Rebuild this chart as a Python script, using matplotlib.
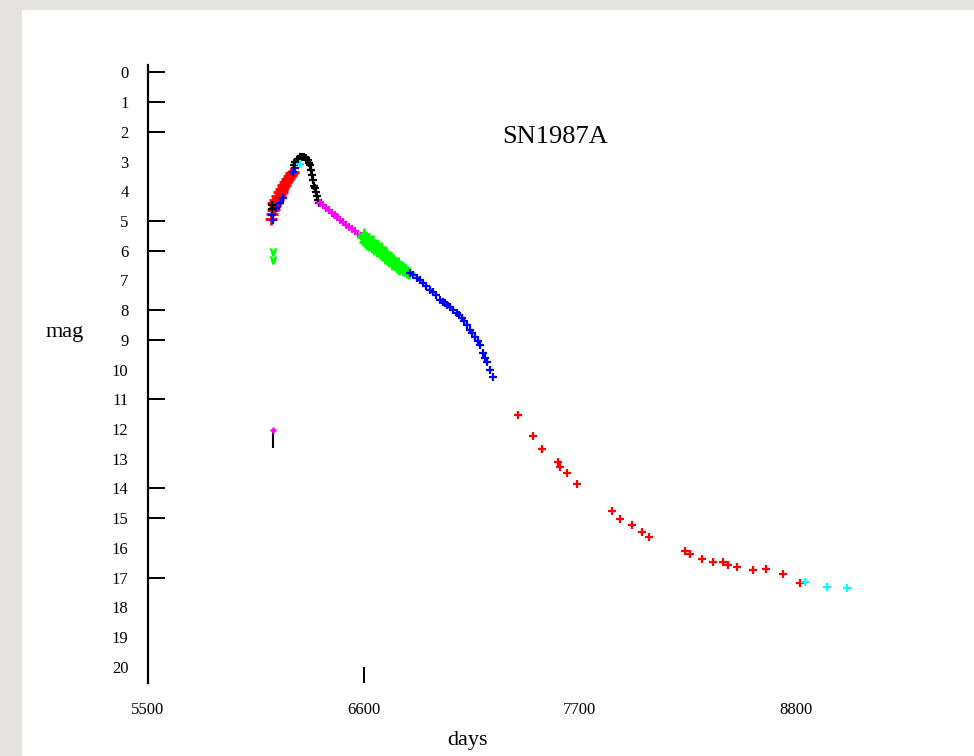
import matplotlib
matplotlib.use("Agg")
import matplotlib.pyplot as plt
from matplotlib.patches import Rectangle

# ---------------- data ----------------
x_ticks = [5500, 6600, 7700, 8800]
x_tick_labels = ["5500", "6600", "7700", "8800"]
y_ticks = list(range(0, 21))
y_tick_marks = [0, 1, 2, 5, 6, 8, 9, 11, 14, 15, 17]

red_rise_x = [6128, 6132, 6135, 6140, 6145, 6150, 6155, 6160, 6165, 6170, 6175, 6180,
              6185, 6190, 6195, 6200, 6205, 6210, 6215, 6220, 6225, 6230, 6235, 6240,
              6138, 6146, 6156, 6166, 6176, 6186, 6196, 6206, 6216, 6226]
red_rise_mag = [4.92, 4.78, 4.62, 4.58, 4.50, 4.40, 4.36, 4.28, 4.20, 4.15, 4.05, 4.02,
                3.95, 3.88, 3.82, 3.78, 3.70, 3.66, 3.58, 3.55, 3.48, 3.45, 3.40, 3.36,
                4.40, 4.28, 4.15, 4.02, 3.92, 3.80, 3.68, 3.58, 3.48, 3.38]

blue_rise_x = [6131, 6135, 6152, 6172, 6188, 6238, 6249]
blue_rise_mag = [4.80, 4.95, 4.56, 4.39, 4.23, 3.35, 3.22]

black_x = [6130, 6134, 6243, 6251, 6259, 6266, 6274, 6282, 6289, 6297, 6305, 6315,
           6322, 6325, 6330, 6335, 6340, 6345, 6350, 6356, 6361, 6366, 6371]
black_mag = [4.46, 4.60, 3.11, 3.02, 2.95, 2.90, 2.85, 2.84, 2.85, 2.86, 2.88, 2.95,
             3.05, 3.11, 3.28, 3.45, 3.62, 3.82, 3.90, 4.02, 4.16, 4.29, 4.39]

cyan_peak_x = [6274]
cyan_peak_mag = [3.08]

magenta_x = [6376, 6390, 6405, 6420, 6435, 6450, 6465, 6480, 6495, 6510, 6525,
             6540, 6555, 6570, 6585, 6595]
magenta_mag = [4.40, 4.47, 4.56, 4.64, 4.72, 4.80, 4.88, 4.96, 5.04, 5.12, 5.20,
               5.27, 5.35, 5.43, 5.51, 5.56]

green_x = [6595, 6600, 6605, 6610, 6615, 6620, 6625, 6630, 6640, 6645, 6650, 6660,
           6665, 6670, 6680, 6685, 6690, 6700, 6705, 6710, 6720, 6725, 6730, 6740,
           6745, 6750, 6760, 6770, 6775, 6780, 6790, 6800, 6810, 6820, 6830,
           6612, 6635, 6655, 6675, 6695, 6715, 6735, 6755, 6765, 6785, 6805]
green_mag = [5.55, 5.45, 5.70, 5.55, 5.76, 5.60, 5.82, 5.66, 5.86, 5.68, 5.94, 5.82,
             6.02, 5.86, 6.06, 5.92, 6.14, 6.06, 6.26, 6.08, 6.28, 6.36, 6.20, 6.26,
             6.46, 6.30, 6.40, 6.56, 6.42, 6.60, 6.55, 6.66, 6.64, 6.72, 6.76,
             5.64, 5.76, 5.86, 5.98, 6.04, 6.18, 6.30, 6.38, 6.48, 6.50, 6.60]

blue_late_x = [6834, 6850, 6870, 6885, 6900, 6915, 6936, 6950, 6965, 6987, 7000, 7013,
               7025, 7038, 7055, 7074, 7085, 7099, 7110, 7125, 7140, 7152, 7166, 7180,
               7191, 7206, 7218, 7227, 7242, 7257]
blue_late_mag = [6.75, 6.83, 6.92, 6.99, 7.08, 7.18, 7.32, 7.40, 7.50, 7.66, 7.72, 7.76,
                 7.84, 7.90, 7.98, 8.10, 8.18, 8.27, 8.36, 8.50, 8.67, 8.78, 8.91, 9.05,
                 9.18, 9.44, 9.60, 9.75, 10.02, 10.25]

red_late_x = [7384, 7461, 7507, 7588, 7598, 7634, 7685, 7863, 7904, 7965, 8016, 8052,
              8235, 8260, 8322, 8378, 8429, 8454, 8500, 8581, 8648, 8734, 8821]
red_late_mag = [11.53, 12.24, 12.68, 13.11, 13.28, 13.49, 13.85, 14.76, 15.03, 15.24,
                15.47, 15.64, 16.11, 16.21, 16.38, 16.48, 16.48, 16.58, 16.65, 16.75,
                16.72, 16.89, 17.19]

cyan_late_x = [8846, 8958, 9060]
cyan_late_mag = [17.15, 17.32, 17.36]

green_limit_x = [6137, 6137]
green_limit_mag = [6.04, 6.31]

limit_x = [6137]
limit_mag = [12.04]
limit_len = 0.6

# ---------------- figure ----------------
W, H = 974, 756
fig = plt.figure(figsize=(W / 100, H / 100), dpi=100)
fig.patch.set_facecolor("#e5e3e0")
bg = Rectangle((22 / W, 0), 1, 1 - 10 / H, transform=fig.transFigure,
               facecolor="white", edgecolor="none", zorder=-10)
fig.add_artist(bg)

ax = fig.add_axes([148 / W, 73 / H, (920 - 148) / W, (683 - 65) / H])
ax.set_zorder(1)
ax.set_facecolor("none")
ax.set_xlim(5500, 9432)
ax.set_ylim(20.55, -0.25)
ax.xaxis.remove_overlapping_locs = False
ax.yaxis.remove_overlapping_locs = False

for s in ["top", "right", "bottom"]:
    ax.spines[s].set_visible(False)
ax.spines["left"].set_linewidth(1.6)

font = "Liberation Serif"

ax.set_yticks(y_ticks)
ax.set_yticklabels([str(v) for v in y_ticks], fontfamily=font, fontsize=12)
ax.tick_params(axis="y", which="major", length=0, pad=14)
ax.set_yticks(y_tick_marks, minor=True)
ax.tick_params(axis="y", which="minor", direction="in", length=12.5, width=1.4)

ax.set_xticks(x_ticks)
ax.set_xticklabels(x_tick_labels, fontfamily=font, fontsize=12)
ax.tick_params(axis="x", which="major", length=0, pad=14)
ax.set_xticks([x_ticks[1]], minor=True)
ax.tick_params(axis="x", which="minor", direction="in", length=11.5, width=1.4)

kw = dict(linestyle="none", marker="+", markersize=6, mew=1.6)
kw_dense = dict(linestyle="none", marker="+", markersize=8, mew=2.0)
ax.plot(red_rise_x, red_rise_mag, color="#ff0000", **kw_dense)
ax.plot(blue_rise_x, blue_rise_mag, color="#0000ff", **kw)
ax.plot(black_x, black_mag, color="black", **kw)
ax.plot(cyan_peak_x, cyan_peak_mag, color="#00ffff", **kw)
ax.plot(magenta_x, magenta_mag, color="#ff00ff", **kw)
ax.plot(green_x, green_mag, color="#00ff00", **kw_dense)
ax.plot(blue_late_x, blue_late_mag, color="#0000ff", **kw)
ax.plot(red_late_x, red_late_mag, color="#ff0000", **kw)
ax.plot(cyan_late_x, cyan_late_mag, color="#00ffff", **kw)

ax.plot(green_limit_x, green_limit_mag, linestyle="none", marker=r"$\vee$",
        markersize=5, color="#00ff00")
ax.vlines(limit_x, [m for m in limit_mag], [m + limit_len for m in limit_mag],
          color="black", lw=1.5)
ax.plot(limit_x, limit_mag, linestyle="none", marker="+", markersize=5, mew=1.8,
        color="#ff00ff")

fig.text(555 / W, 1 - 137 / H, "SN1987A", fontfamily=font, fontsize=19,
         ha="center", va="center")
fig.text(65 / W, 1 - 333 / H, "mag", fontfamily=font, fontsize=16,
         ha="center", va="center")
fig.text(468 / W, 1 - 740 / H, "days", fontfamily=font, fontsize=16,
         ha="center", va="center")

fig.savefig("out.png", dpi=100)
